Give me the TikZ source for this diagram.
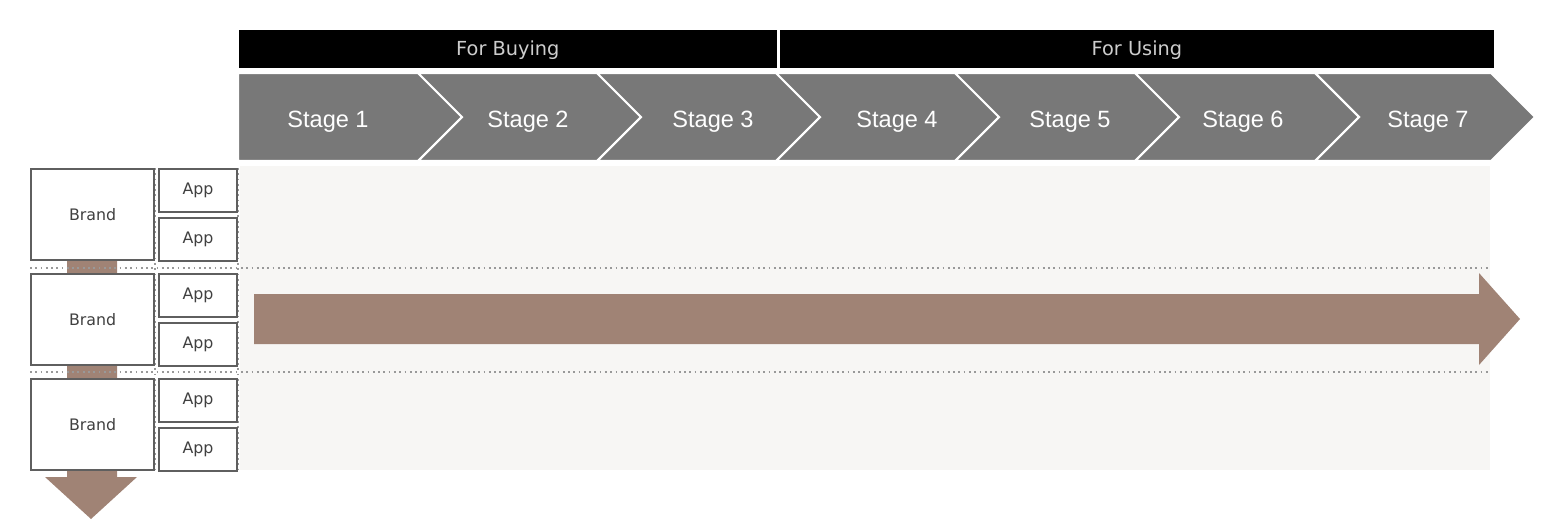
\documentclass[tikz,border=0pt]{standalone}
\usepackage{fontspec}
\setmainfont{Liberation Sans}
\newfontfamily\boxfont{DejaVu Sans}
\usepackage{xcolor}

\definecolor{arrowbrown}{RGB}{160,131,117}
\definecolor{stagegray}{RGB}{120,120,120}
\definecolor{panelgray}{RGB}{247,246,244}
\definecolor{boxline}{RGB}{95,95,95}
\definecolor{headtext}{RGB}{205,205,205}

\begin{document}
\begin{tikzpicture}[x=0.01cm, y=-0.01cm,
        header/.style={fill=black, anchor=north west, inner sep=0pt, minimum height=0.38cm,
            text height=5.1pt, text=headtext, font=\boxfont\fontsize{5.5}{6}\selectfont},
        stagelabel/.style={text=white, font=\fontsize{6.7}{8}\selectfont},
        brandbox/.style={draw=boxline, fill=white, line width=0.6pt, anchor=north west, inner sep=0pt,
            minimum width=1.23cm, minimum height=0.91cm, text=black!75,
            font=\boxfont\fontsize{4.5}{5}\selectfont},
        appbox/.style={brandbox, minimum width=0.78cm, minimum height=0.43cm},
        rowline/.style={densely dotted, gray!80, line width=0.5pt}]
        \useasboundingbox (0,0) rectangle (1554,527);

        % Фон строк
        \fill[panelgray] (240,166) rectangle (1490,470);

        % Заголовки
        \node[header, minimum width=5.38cm] (buying) at (238,29) {For Buying};
        \node[header, minimum width=7.14cm] (using)  at (779,29) {For Using};

        % Стадии
        \foreach \a/\b/\lx [count=\i] in {238/418/328, 418/597/528, 597/776/713, 776/955/897,
                955/1135/1070, 1135/1315/1243, 1315/1491/1428} {
            \pgfmathsetmacro{\dep}{\i==1 ? 0 : 44}
            \filldraw[fill=stagegray, draw=white, line width=0.6pt]
                (\a,73) -- (\b,73) -- (\b+44,117) -- (\b,161) -- (\a,161) -- (\a+\dep,117) -- cycle;
            \node[stagelabel] (stage\i) at (\lx,122) {Stage \i};
        }

        % Коричневые стрелки
        \fill[arrowbrown] (67,168) -- (117,168) -- (117,477) -- (137,477) -- (91,519) -- (45,477) -- (67,477) -- cycle;
        \fill[arrowbrown] (254,294) -- (1479,294) -- (1479,273) -- (1520,319) -- (1479,365) -- (1479,344) -- (254,344) -- cycle;

        % Пунктирные разделители
        \foreach \y in {268,372} \draw[rowline] (30,\y) -- (1490,\y);
        \foreach \x in {155,238} \draw[rowline] (\x,168) -- (\x,470);

        % Бренды и приложения
        \foreach \y [count=\i] in {168,273,378} {
            \node[brandbox] (brand\i) at (30,\y) {Brand};
            \node[appbox] (app\i-top) at (158,\y) {App};
            \node[appbox] (app\i-bot) at (158,\y+49) {App};
        }
    \end{tikzpicture}
\end{document}
